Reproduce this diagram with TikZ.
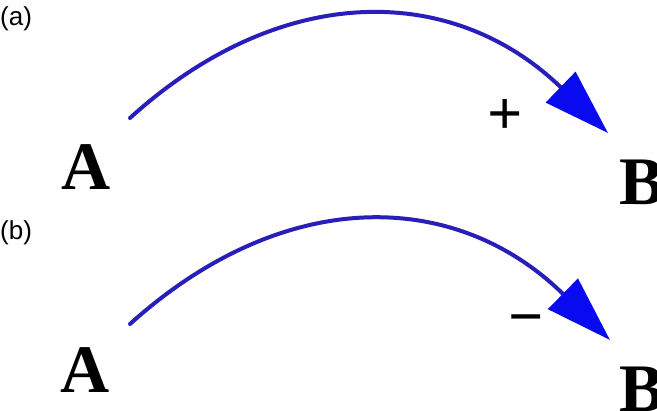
\documentclass[tikz,border=0pt]{standalone}
\usepackage{fontspec}
\setmainfont{Liberation Serif}
\newfontfamily\panelfont{Liberation Sans}
\usetikzlibrary{arrows.meta}
\definecolor{arcblue}{RGB}{40,30,185}
\definecolor{headblue}{RGB}{10,10,240}
\begin{document}
\begin{tikzpicture}[x=1pt,y=-1pt,
  letter/.style={font=\fontsize{68}{68}\selectfont\bfseries, inner sep=0pt, anchor=base},
  panel/.style={font=\panelfont\fontsize{26}{26}\selectfont, inner sep=0pt, anchor=north west},
  sign/.style={font=\fontsize{62}{62}\selectfont\bfseries, inner sep=0pt, anchor=base},
  arcline/.style={line width=4pt, draw=arcblue, line cap=round,
    -{Triangle[length=66pt,width=42pt,fill=headblue,color=headblue]}}]
\useasboundingbox[fill=white] (0,0) rectangle (657,411);
% panel labels
\node[panel] (la) at (0,6) {(a)};
\node[panel] (lb) at (0,220) {(b)};
% (a)
\node[letter] (A1) at (86,190) {A};
\node[letter, anchor=base west] (B1) at (619,205) {B};
\coordinate (s1) at (130,118);
\coordinate (t1) at (608,133);
\draw[arcline] (s1) .. controls (280,-18) and (452,-18) .. (t1);
\node[sign] (plus) at (505,135) {+};
% (b)
\node[letter] (A2) at (85,393) {A};
\node[letter, anchor=base west] (B2) at (619,412) {B};
\coordinate (s2) at (130,324);
\coordinate (t2) at (610,340);
\draw[arcline] (s2) .. controls (282,187) and (454,187) .. (t2);
\node[sign] (minus) at (526,338) {−};
\end{tikzpicture}
\end{document}
